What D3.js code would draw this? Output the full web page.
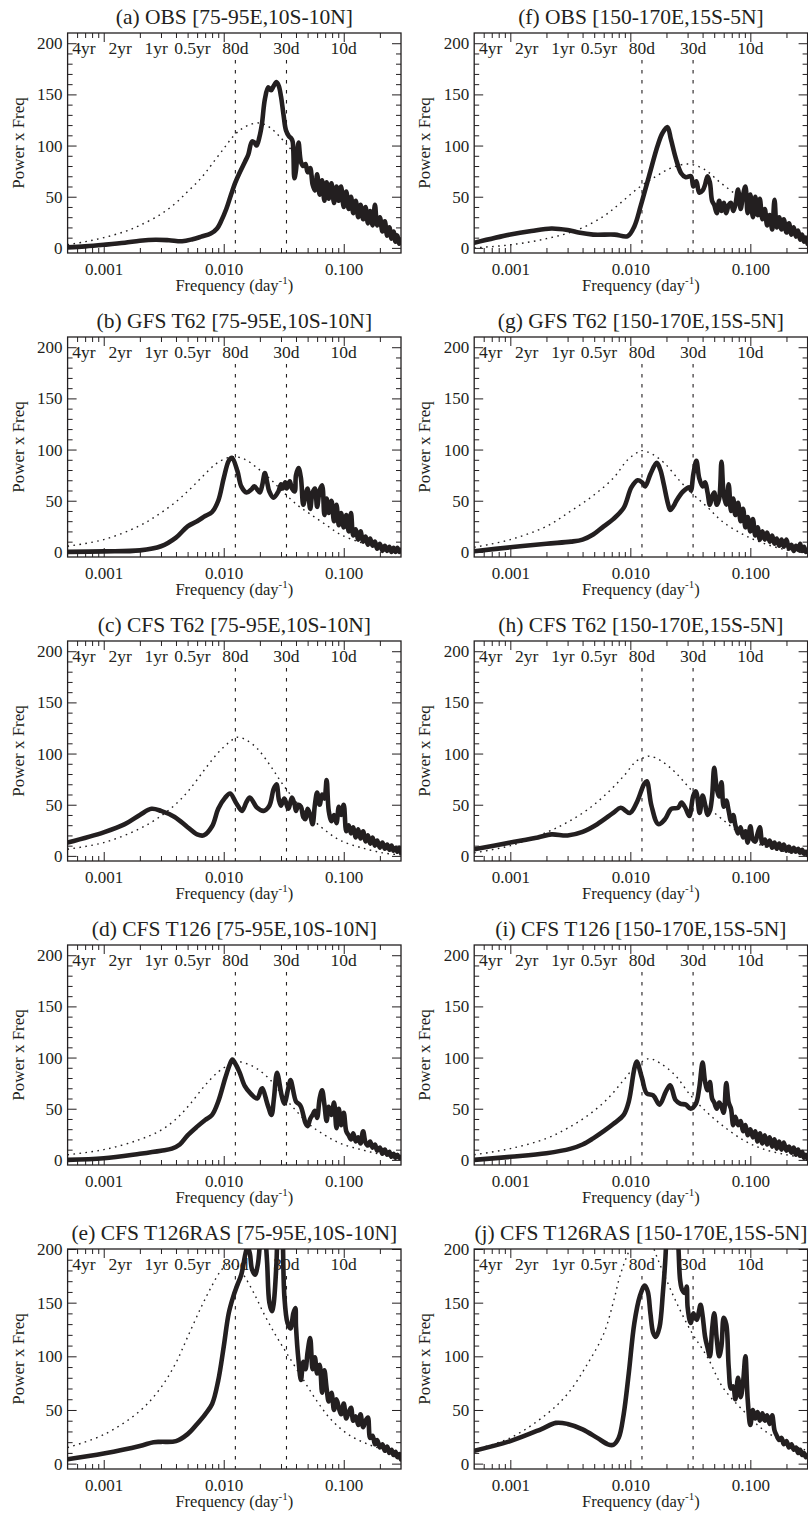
<!DOCTYPE html>
<html>
<head>
<meta charset="utf-8">
<script src="https://cdn.jsdelivr.net/npm/d3@7"></script>
<style>
  html, body { margin: 0; padding: 0; background: #fff; }
</style>
</head>
<body>
<div id="wrapper"></div>
<script>
// Spectra. Low-frequency parts are [frequency (1/day), power x freq];
// the noisy high-frequency parts share one frequency grid (hiFreq).
const hiFreq = [0.04,0.042,0.044,0.046,0.048,0.05,0.0525,0.055,0.0575,0.06,0.063,0.066,0.069,0.072,0.075,0.079,0.083,0.087,0.091,0.095,0.1,0.105,0.11,0.115,0.12,0.126,0.132,0.138,0.145,0.152,0.159,0.166,0.174,0.182,0.19,0.2,0.21,0.22,0.23,0.24,0.25,0.26,0.27,0.28,0.29,0.3]

const obsIndianLow = [[0.0005,0.5],[0.0007,1.5],[0.001,3],[0.0015,5],[0.002,7],[0.0027,8],[0.0035,7.5],[0.0045,6.5],[0.0055,8.5],[0.0065,11],[0.0078,14],[0.0088,19],[0.0095,26],[0.0105,38],[0.0115,52],[0.0125,64],[0.0135,73],[0.015,84],[0.016,91],[0.0172,104],[0.018,103],[0.0188,100],[0.0198,108],[0.0208,121],[0.022,145],[0.0235,157],[0.0248,154],[0.026,158],[0.0275,162],[0.0288,158],[0.03,148],[0.0315,130],[0.033,115],[0.035,109],[0.0365,107],[0.0375,104],[0.0388,68]]
const obsIndianHi = [76,103,84,80,82,74,78,62,56,72,52,66,46,64,48,63,44,60,46,60,40,55,38,50,34,46,30,42,28,40,24,36,22,42,22,30,16,26,12,20,9,16,6,12,4,8]
const redObsIndian = [[0.0005,3],[0.0007,6],[0.001,10],[0.0015,16],[0.002,22],[0.003,33],[0.004,44],[0.005,55],[0.006,64],[0.007,73],[0.008,82],[0.01,97],[0.012,109],[0.014,116],[0.017,121],[0.02,122],[0.024,118],[0.028,111],[0.033,102],[0.04,90],[0.05,76],[0.06,66],[0.08,52],[0.1,43],[0.15,29],[0.2,21],[0.3,12]]

const gfsIndianLow = [[0.0005,0],[0.001,0.5],[0.002,1.5],[0.003,5.5],[0.004,14],[0.005,25],[0.006,30],[0.007,35],[0.008,39],[0.009,50],[0.01,72],[0.011,89],[0.0117,92],[0.013,79],[0.014,64],[0.0155,58],[0.017,61],[0.018,64],[0.019,61],[0.02,58],[0.021,66],[0.022,77],[0.023,68],[0.024,59],[0.026,53],[0.0285,59],[0.03,66],[0.031,62],[0.0325,68],[0.0335,62],[0.0355,69],[0.037,62],[0.039,59]]
const gfsIndianHi = [75,82,72,46,55,62,42,58,62,44,60,65,36,52,38,50,30,46,26,38,24,36,20,38,16,22,12,20,10,15,7,13,6,10,3,8,1,6,1,5,0,4,0,4,0,2]
const redGfsIndian = [[0.0005,5.5],[0.001,12],[0.00195,25],[0.0029,37],[0.0041,50],[0.0052,61],[0.0067,74],[0.0086,86],[0.0105,91.5],[0.0122,93],[0.015,90.5],[0.019,82],[0.0245,71],[0.031,59],[0.0408,46],[0.0525,37],[0.07,27],[0.094,17],[0.14,9],[0.21,4],[0.3,1]]

const cfs62IndianLow = [[0.0005,13],[0.001,23],[0.0015,31],[0.002,40],[0.0025,46],[0.003,44],[0.0039,38],[0.005,28],[0.006,21],[0.0068,20],[0.008,29],[0.009,46],[0.0103,57],[0.0113,61],[0.0128,51],[0.0142,44],[0.0155,53],[0.0165,57],[0.019,47],[0.0215,44],[0.024,49],[0.026,65],[0.0275,70],[0.0288,55],[0.03,49],[0.032,56],[0.0345,46],[0.037,57],[0.039,50]]
const cfs62IndianHi = [44,50,48,38,36,46,40,31,50,62,50,60,56,74,44,34,40,32,48,40,50,24,30,22,28,18,26,17,24,14,20,12,18,10,15,8,13,7,11,6,10,5,8,4,8,3]
const redCfs62Indian = [[0.0005,6.5],[0.001,13],[0.00195,26],[0.003,39],[0.0041,52],[0.0052,65],[0.007,85],[0.009,101],[0.0111,111],[0.013,116],[0.0155,113],[0.019,105],[0.0245,88],[0.031,70],[0.0408,52],[0.0525,38],[0.07,25],[0.094,15],[0.14,8],[0.21,3],[0.3,1]]

const cfs126IndianLow = [[0.0005,0],[0.001,1.6],[0.002,6],[0.003,9],[0.0037,11],[0.0043,15],[0.005,24],[0.006,32.5],[0.007,39],[0.008,44],[0.009,57],[0.0103,80],[0.0113,94],[0.0118,98],[0.0122,96],[0.0135,86],[0.015,72],[0.0167,65],[0.019,60],[0.0205,69],[0.021,70],[0.0232,54],[0.025,44],[0.0262,60],[0.0278,85],[0.0305,62],[0.032,55],[0.0345,70],[0.036,78]]
const cfs126IndianHi = [57,55,52,44,36,33,40,44,48,41,60,68,54,38,52,44,56,31,50,34,46,28,24,20,26,18,22,16,28,17,14,18,12,15,9,12,6,10,5,8,3,6,2,5,2,3]
const redCfs126Indian = [[0.0005,5],[0.001,10],[0.00195,19.5],[0.003,29],[0.0041,41],[0.0052,54],[0.007,73],[0.009,86],[0.0111,93],[0.013,96],[0.0155,94],[0.019,89],[0.0245,78],[0.031,63],[0.0408,47],[0.0525,34],[0.07,24],[0.094,16],[0.14,10],[0.21,5],[0.3,2]]

const rasIndianLow = [[0.0005,4],[0.001,9.4],[0.002,16.5],[0.0026,20],[0.003,20.3],[0.004,21],[0.005,27.5],[0.006,37],[0.007,46],[0.008,55.6],[0.009,77.5],[0.01,109],[0.011,140],[0.012,155.6],[0.013,166.6],[0.014,176],[0.0152,196],[0.0158,202],[0.0165,196],[0.0172,181],[0.0182,176],[0.0192,185],[0.02,205],[0.0208,240],[0.0215,245],[0.0222,215],[0.023,187],[0.024,150],[0.0252,142],[0.026,148],[0.0275,187],[0.0285,235],[0.0298,245],[0.0308,225],[0.032,156],[0.034,131],[0.036,126],[0.038,140],[0.0395,145]]
const rasIndianHi = [128,96,78,95,88,104,117,88,99,84,92,66,87,70,58,66,50,60,52,46,56,42,48,52,40,44,36,46,34,40,43,24,26,18,22,15,18,12,16,10,13,8,11,6,9,4]
const redRasIndian = [[0.0005,15],[0.001,27],[0.002,49],[0.003,71],[0.004,94],[0.005,118],[0.0065,146],[0.008,166],[0.0095,180],[0.011,186],[0.013,184],[0.015,174],[0.018,158],[0.022,138],[0.027,120],[0.033,104],[0.045,80],[0.06,58],[0.08,40],[0.11,27],[0.16,18],[0.22,13],[0.3,10]]

const obsPacificLow = [[0.0005,5],[0.001,13],[0.0015,16.5],[0.0022,19],[0.003,17.5],[0.0037,15],[0.0049,13],[0.0074,13],[0.0095,11.5],[0.0108,21],[0.0122,41],[0.0143,70],[0.0169,100],[0.0185,112],[0.0204,118],[0.0218,106],[0.024,87],[0.0265,73],[0.029,69],[0.032,70],[0.0335,60],[0.0355,65],[0.0375,54]]
const obsPacificHi = [56,62,70,64,46,42,34,46,36,44,34,42,44,36,42,57,38,52,60,34,52,30,50,32,48,28,38,22,32,18,47,20,30,18,28,15,24,13,20,11,17,8,13,6,10,4]
const redObsPacific = [[0.0005,0],[0.001,3],[0.002,9],[0.0037,18],[0.006,31],[0.0083,44],[0.0118,59],[0.0164,70],[0.0218,78],[0.03,82],[0.041,77],[0.056,64],[0.078,51],[0.108,38],[0.148,28],[0.205,18],[0.3,8]]

const gfsPacificLow = [[0.0005,0.7],[0.001,4.5],[0.002,8],[0.0032,10],[0.004,12],[0.0049,17],[0.006,25],[0.0072,32],[0.0088,43],[0.0102,63],[0.0115,70],[0.0125,68],[0.0133,64],[0.0147,76],[0.0166,87],[0.0178,80],[0.019,66],[0.0205,48],[0.0215,41],[0.023,45],[0.0242,50],[0.0275,59],[0.031,63],[0.032,60],[0.0335,76],[0.0355,89],[0.0375,72]]
const gfsPacificHi = [64,68,58,46,54,58,46,52,88,56,46,66,40,52,36,48,30,42,24,34,20,32,16,24,12,20,12,19,10,16,8,13,6,12,5,12,3,7,1,6,2,8,1,5,0,2]
const redGfsPacific = [[0.0005,4.5],[0.001,12],[0.002,25],[0.0032,40],[0.0049,55],[0.0072,72],[0.0095,90],[0.0114,97],[0.0125,99],[0.0155,95],[0.0195,86],[0.026,69],[0.0335,56],[0.0445,43],[0.058,30],[0.087,17],[0.125,9],[0.2,2],[0.3,0]]

const cfs62PacificLow = [[0.0005,6.5],[0.001,13],[0.0017,18],[0.0022,21],[0.003,20],[0.004,23.5],[0.0053,31],[0.0072,42],[0.0083,47],[0.0099,42],[0.0113,52],[0.013,70],[0.0137,73],[0.015,49],[0.0171,31],[0.0195,36],[0.0219,46],[0.025,47],[0.0267,52],[0.029,46],[0.031,39],[0.0335,59],[0.0352,63],[0.0378,42]]
const cfs62PacificHi = [59,50,40,44,58,86,66,58,72,48,54,44,34,40,30,22,28,18,24,13,29,16,14,22,28,12,16,10,15,8,13,7,12,6,11,5,9,4,8,4,7,3,6,2,4,1]
const redCfs62Pacific = [[0.0005,3],[0.001,10],[0.002,23],[0.003,33],[0.0045,46],[0.0065,62],[0.0088,78],[0.0113,93],[0.013,96],[0.0145,97.5],[0.018,93],[0.0235,82],[0.0318,65],[0.043,49],[0.058,36],[0.087,20],[0.125,10],[0.2,4],[0.3,2]]

const cfs126PacificLow = [[0.0005,0],[0.001,3],[0.002,6.5],[0.0032,11],[0.004,15],[0.0049,21],[0.006,28],[0.0072,35],[0.0088,44],[0.0097,57],[0.0108,89],[0.0113,96],[0.0125,80],[0.0137,65],[0.0155,63],[0.0175,54],[0.0198,67],[0.0215,73],[0.0238,58.5],[0.026,55],[0.029,54],[0.0318,50],[0.0352,55],[0.0375,70]]
const cfs126PacificHi = [95,76,68,76,60,56,50,56,52,46,75,56,50,34,42,34,38,28,34,24,30,22,28,18,26,16,24,15,22,13,20,11,18,10,17,9,13,7,12,5,10,4,8,2,5,1]
const redCfs126Pacific = [[0.0005,5],[0.001,11],[0.002,21],[0.003,31],[0.0045,44],[0.0065,60],[0.0088,78],[0.0113,93],[0.013,97],[0.0145,99],[0.018,94],[0.0235,83],[0.0318,63],[0.043,47],[0.058,34],[0.087,19.5],[0.125,11],[0.2,5],[0.3,2]]

const rasPacificLow = [[0.0005,12],[0.001,21],[0.0018,32],[0.0024,38],[0.003,37],[0.004,32],[0.0053,24],[0.0065,18],[0.0072,17.5],[0.008,24],[0.0088,46],[0.0097,84],[0.0108,131],[0.012,156],[0.0132,166],[0.014,160],[0.0147,140],[0.0155,122],[0.0163,118],[0.0175,127],[0.0187,160],[0.0195,187],[0.0203,225],[0.021,245],[0.0218,215],[0.0225,202],[0.0233,230],[0.0242,240],[0.0252,200],[0.026,171],[0.027,162],[0.0285,159],[0.0295,165],[0.03,146],[0.0318,131],[0.0335,140],[0.0345,136],[0.0358,134],[0.037,140],[0.0385,148]]
const rasPacificHi = [138,118,108,100,125,140,116,100,110,136,130,90,70,72,60,80,62,76,100,60,36,50,42,48,40,47,40,45,37,45,31,26,22,24,18,21,15,18,13,15,10,13,8,10,6,7]
const redRasPacific = [[0.0005,13],[0.001,24],[0.002,46],[0.003,65],[0.0044,93],[0.006,121],[0.0072,150],[0.0082,175],[0.0095,195],[0.011,210],[0.013,215],[0.015,205],[0.017,190],[0.0195,174],[0.0238,152],[0.0318,124],[0.044,99],[0.059,71],[0.088,49],[0.13,31],[0.213,18],[0.3,12]]

const titles = [
  '(a) OBS [75-95E,10S-10N]', '(b) GFS T62 [75-95E,10S-10N]', '(c) CFS T62 [75-95E,10S-10N]',
  '(d) CFS T126 [75-95E,10S-10N]', '(e) CFS T126RAS [75-95E,10S-10N]',
  '(f) OBS [150-170E,15S-5N]', '(g) GFS T62 [150-170E,15S-5N]', '(h) CFS T62 [150-170E,15S-5N]',
  '(i) CFS T126 [150-170E,15S-5N]', '(j) CFS T126RAS [150-170E,15S-5N]',
]
const periodLabels = ['4yr', '2yr', '1yr', '0.5yr', '80d', '30d', '10d']
const periodDays = [1460, 730, 365, 182.5, 80, 30, 10]
const markerDays = [80, 30]
const freqDomain = [0.0005, 0.3]
const majorFreqTicks = [0.001, 0.01, 0.1]
const yMajorTicks = [0, 50, 100, 150, 200]
const yTopByRow = [210, 210, 210, 210, 200]

const joinSpectrum = (low, hi) => low.concat(hiFreq.map((f, k) => [f, hi[k]]))

const panels = [
  { title: titles[0], solid: joinSpectrum(obsIndianLow, obsIndianHi), red: redObsIndian, col: 0, row: 0 },
  { title: titles[1], solid: joinSpectrum(gfsIndianLow, gfsIndianHi), red: redGfsIndian, col: 0, row: 1 },
  { title: titles[2], solid: joinSpectrum(cfs62IndianLow, cfs62IndianHi), red: redCfs62Indian, col: 0, row: 2 },
  { title: titles[3], solid: joinSpectrum(cfs126IndianLow, cfs126IndianHi), red: redCfs126Indian, col: 0, row: 3 },
  { title: titles[4], solid: joinSpectrum(rasIndianLow, rasIndianHi), red: redRasIndian, col: 0, row: 4 },
  { title: titles[5], solid: joinSpectrum(obsPacificLow, obsPacificHi), red: redObsPacific, col: 1, row: 0 },
  { title: titles[6], solid: joinSpectrum(gfsPacificLow, gfsPacificHi), red: redGfsPacific, col: 1, row: 1 },
  { title: titles[7], solid: joinSpectrum(cfs62PacificLow, cfs62PacificHi), red: redCfs62Pacific, col: 1, row: 2 },
  { title: titles[8], solid: joinSpectrum(cfs126PacificLow, cfs126PacificHi), red: redCfs126Pacific, col: 1, row: 3 },
  { title: titles[9], solid: joinSpectrum(rasPacificLow, rasPacificHi), red: redRasPacific, col: 1, row: 4 },
]

const dimensions = {
  width: 808,
  height: 1514,
  boxLeft: [67.6, 474.2],
  boxTop: 33,
  boxWidth: 333.4,
  boxHeight: 220,
  rowStep: 304,
}
const ink = '#231f20'
const serif = "'Liberation Serif', 'Times New Roman', Times, serif"

const wrapper = d3
  .select('#wrapper')
  .append('svg')
  .attr('width', dimensions.width)
  .attr('height', dimensions.height)
const defs = wrapper.append('defs')

panels.forEach((p, i) => drawPanel(p, i))

// axis generators set their own sans-serif font; override everywhere
wrapper.selectAll('text').style('font-family', serif).attr('fill', ink)

function drawPanel(p, i) {
  const bw = dimensions.boxWidth
  const bh = dimensions.boxHeight
  const bounds = wrapper
    .append('g')
    .attr('transform', `translate(${dimensions.boxLeft[p.col]}, ${dimensions.boxTop + p.row * dimensions.rowStep})`)

  const xScale = d3.scaleLog().domain(freqDomain).range([0, bw])
  const yScale = d3.scaleLinear().domain([-5, yTopByRow[p.row]]).range([bh, 0])

  const clipId = `clip-${i}`
  defs.append('clipPath').attr('id', clipId).append('rect').attr('width', bw).attr('height', bh)

  // title
  bounds.append('text')
    .attr('x', bw / 2).attr('y', -9)
    .attr('text-anchor', 'middle')
    .style('font-size', '21.5px')
    .text(p.title)

  // period labels along the top
  bounds.append('g').selectAll('text')
    .data(periodDays)
    .join('text')
    .attr('x', (d) => xScale(1 / d))
    .attr('y', 21)
    .attr('text-anchor', 'middle')
    .style('font-size', '17.5px')
    .text((d, j) => periodLabels[j])

  // 80d / 30d markers
  bounds.append('g').selectAll('line')
    .data(markerDays)
    .join('line')
    .attr('x1', (d) => xScale(1 / d)).attr('x2', (d) => xScale(1 / d))
    .attr('y1', 27).attr('y2', bh)
    .attr('stroke', ink).attr('stroke-width', 1.1)
    .attr('stroke-dasharray', '3.5,6.5')

  const lineGenerator = d3.line()
    .x((d) => xScale(d[0]))
    .y((d) => yScale(d[1]))
    .curve(d3.curveCatmullRom.alpha(0.5))

  const plot = bounds.append('g').attr('clip-path', `url(#${clipId})`)
  plot.append('path')
    .attr('d', lineGenerator(p.red))
    .attr('fill', 'none').attr('stroke', ink)
    .attr('stroke-width', 1.4).attr('stroke-dasharray', '1.6,4.4')
  plot.append('path')
    .attr('d', lineGenerator(p.solid))
    .attr('fill', 'none').attr('stroke', ink)
    .attr('stroke-width', 4.6)
    .attr('stroke-linejoin', 'round').attr('stroke-linecap', 'round')

  // axes: ticks point inward on all four sides
  const minorX = xScale.ticks().filter((d) => !majorFreqTicks.includes(d) && d > freqDomain[0] * 1.01 && d < freqDomain[1] * 0.99)
  const yMinor = yScale.ticks(20).filter((d) => d % 50 !== 0 && d < yScale.domain()[1])
  const strip = (g) => { g.select('.domain').remove(); g.attr('color', ink) }

  bounds.append('g').attr('transform', `translate(0, ${bh})`)
    .call(d3.axisBottom(xScale).tickValues(minorX).tickSize(-5).tickFormat(''))
    .call(strip)
  bounds.append('g').attr('transform', `translate(0, ${bh})`)
    .call(d3.axisBottom(xScale).tickValues(majorFreqTicks).tickSize(-9).tickFormat(d3.format('.3f')))
    .call(strip)
    .call((g) => g.selectAll('text').attr('y', 22).attr('dy', null).style('font-size', '17px'))
  bounds.append('g')
    .call(d3.axisTop(xScale).tickValues(minorX).tickSize(-5).tickFormat(''))
    .call(strip)
  bounds.append('g')
    .call(d3.axisTop(xScale).tickValues(majorFreqTicks).tickSize(-9).tickFormat(''))
    .call(strip)

  bounds.append('g')
    .call(d3.axisLeft(yScale).tickValues(yMinor).tickSize(-5).tickFormat(''))
    .call(strip)
  bounds.append('g')
    .call(d3.axisLeft(yScale).tickValues(yMajorTicks).tickSize(-9).tickPadding(5))
    .call(strip)
    .call((g) => g.selectAll('text').style('font-size', '17px'))
  bounds.append('g').attr('transform', `translate(${bw}, 0)`)
    .call(d3.axisRight(yScale).tickValues(yMinor).tickSize(-5).tickFormat(''))
    .call(strip)
  bounds.append('g').attr('transform', `translate(${bw}, 0)`)
    .call(d3.axisRight(yScale).tickValues(yMajorTicks).tickSize(-9).tickFormat(''))
    .call(strip)

  bounds.append('rect')
    .attr('width', bw).attr('height', bh)
    .attr('fill', 'none').attr('stroke', ink).attr('stroke-width', 1.3)

  // axis titles
  bounds.append('text')
    .attr('transform', `translate(-44, ${bh / 2}) rotate(-90)`)
    .attr('text-anchor', 'middle')
    .style('font-size', '17px')
    .text('Power x Freq')

  const xTitle = bounds.append('text')
    .attr('x', bw / 2).attr('y', bh + 38)
    .attr('text-anchor', 'middle')
    .style('font-size', '16.5px')
  xTitle.append('tspan').text('Frequency (day')
  xTitle.append('tspan').attr('dy', -7).style('font-size', '11px').text('-1')
  xTitle.append('tspan').attr('dy', 7).text(')')
}
</script>
</body>
</html>
